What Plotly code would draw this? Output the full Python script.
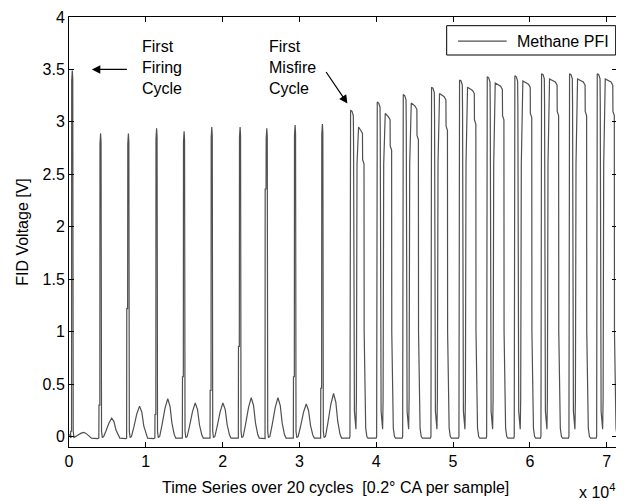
import plotly.graph_objects as go

# ---- data ----
# firing cycles: sample index of each narrow spike peak
firing_starts = [430, 4114, 7734, 11405, 14986, 18592, 22277, 25753, 29438, 32992]
spike_peaks = [3.49, 2.89, 2.89, 2.94, 2.91, 2.95, 2.95, 2.94, 2.97, 2.98]
spike_shoulders = [0.05, 0.30, 1.22, 0.21, 0.57, 0.44, 0.86, 2.36, 0.57, 0.46]
bump_peaks = [0.04, 0.175, 0.29, 0.36, 0.32, 0.32, 0.37, 0.37, 0.31, 0.41]

# misfire cycles: sample index where the first hump rises
misfire_starts = [36600, 40075, 43461, 47145, 50791, 54397, 57991, 61468, 65113, 68720]
misfire_peak1 = [3.11, 3.19, 3.26, 3.33, 3.40, 3.43, 3.44, 3.46, 3.46, 3.46]
misfire_peak2 = [2.95, 3.08, 3.18, 3.27, 3.33, 3.37, 3.39, 3.41, 3.41, 3.41]
misfire_end = [1830, 1950, 2050, 2150, 2200, 2250, 2280, 2300, 2300, 2300]

# waveform outline of one firing cycle (offset in samples, level as fraction)
spike_shape_dx = [-230, -210, -100, -80, 0, 60, 120, 220, 400]
bump_shape_dx = [700, 1100, 1450, 1750, 2000, 2300, 2500]
bump_shape_fr = [0.3, 0.75, 1.0, 0.8, 0.35, 0.05, 0.0]

start_x = [0, 150, 300]
start_y = [0.01, 0.02, 0.0]
end_x = 71350

x_ticks = [0, 10000, 20000, 30000, 40000, 50000, 60000, 70000]
x_tick_labels = ["0", "1", "2", "3", "4", "5", "6", "7"]
y_ticks = [0, 0.5, 1, 1.5, 2, 2.5, 3, 3.5, 4]
y_tick_labels = ["0", "0.5", "1", "1.5", "2", "2.5", "3", "3.5", "4"]

series_name = "Methane PFI"
line_color = "#505050"

# ---- assemble the trace vertices ----
xs, ys = list(start_x), list(start_y)
for P, h, s, b in zip(firing_starts, spike_peaks, spike_shoulders, bump_peaks):
    lv = [-0.015, s, s, h - 0.1, h, h - 0.08, 0.05, -0.01, 0.0]
    for dx, v in zip(spike_shape_dx, lv):
        xs.append(P + dx); ys.append(v)
    for dx, fr in zip(bump_shape_dx, bump_shape_fr):
        xs.append(P + dx); ys.append(b * fr - 0.015 * (fr == 0.0))
    xs.append(P + 3300); ys.append(-0.02)

for P, p1, p2, e in zip(misfire_starts, misfire_peak1, misfire_peak2, misfire_end):
    pts = [(-80, -0.015), (-20, 0.0), (0, 0.8), (30, 2.6), (60, p1),
           (250, p1 - 0.01), (420, p1 - 0.05), (450, p1 - 0.28), (480, 0.7),
           (560, 0.24), (760, 0.07), (820, 0.35), (900, 2.6), (1000, p2 - 0.05),
           (1100, p2), (e - 450, p2 - 0.03), (e - 220, p2 - 0.06), (e - 200, p2 - 0.31),
           (e - 20, p2 - 0.35), (e, 1.0), (e + 100, 0.3), (e + 200, 0.08),
           (e + 350, 0.0), (e + 500, -0.015)]
    for dx, v in pts:
        xs.append(P + dx); ys.append(v)
    nxt = P + 3500
    if nxt < end_x:
        xs.append(nxt - 150); ys.append(-0.015)

xs.append(end_x); ys.append(0.05)

fig = go.Figure()
fig.add_trace(go.Scatter(x=xs, y=ys, mode="lines", name=series_name,
                         showlegend=False,
                         line=dict(color=line_color, width=1.2)))

font = dict(family="Arial, Liberation Sans, sans-serif", size=16, color="black")

# the page body adds an 8 px margin, so the figure is 8 px smaller each way
fig.update_layout(
    width=616, height=493,
    margin=dict(l=61, r=7, t=9, b=54, autoexpand=False),
    paper_bgcolor="white", plot_bgcolor="white",
    font=font,
    showlegend=False,
)
fig.update_xaxes(range=[0, end_x], tickvals=x_ticks, ticktext=x_tick_labels,
                 ticks="inside", ticklen=5, tickcolor="black", mirror="ticks",
                 showline=True, linecolor="black", linewidth=1, automargin=False,
                 showgrid=False, zeroline=False, tickfont=font)
fig.update_yaxes(range=[-0.1, 4], tickvals=y_ticks, ticktext=y_tick_labels,
                 ticks="inside", ticklen=5, tickcolor="black", mirror="ticks",
                 showline=True, linecolor="black", linewidth=1, automargin=False,
                 showgrid=False, zeroline=False, tickfont=font,
                 title=dict(text="FID Voltage [V]", font=font, standoff=9))

# legend box (MATLAB style: long line sample, box close to the top-right corner)
fig.add_shape(type="rect", xref="paper", yref="paper",
              x0=0.6892, x1=0.9976, y0=0.9116, y1=0.9798,
              line=dict(color="black", width=1), fillcolor="white", layer="above")
fig.add_shape(type="line", xref="paper", yref="paper",
              x0=0.7099, x1=0.7987, y0=0.9440, y1=0.9440,
              line=dict(color=line_color, width=1.2), layer="above")
fig.add_annotation(text=series_name, xref="paper", yref="paper", x=0.8139, y=0.9440,
                   xanchor="left", yanchor="middle", showarrow=False, font=font)

fig.add_annotation(text="Time Series over 20 cycles  [0.2° CA per sample]",
                   xref="paper", yref="paper", x=0.486, y=-0.070,
                   xanchor="center", yanchor="top", showarrow=False, font=font)
fig.add_annotation(text="x 10<sup>4</sup>", xref="paper", yref="paper",
                   x=1.0, y=-0.075, xanchor="right", yanchor="top",
                   showarrow=False, font=font)
fig.add_annotation(text="First<br>Firing<br>Cycle", x=9257, y=3.52, xref="x", yref="y",
                   xanchor="left", yanchor="middle", align="left", showarrow=False, font=font)
fig.add_annotation(text="First<br>Misfire<br>Cycle", x=25754, y=3.52, xref="x", yref="y",
                   xanchor="left", yanchor="middle", align="left", showarrow=False, font=font)
fig.add_annotation(x=2982, y=3.50, ax=7734, ay=3.50, axref="x", ayref="y",
                   xref="x", yref="y", text="", showarrow=True,
                   arrowhead=2, arrowsize=1.4, arrowwidth=1.2, arrowcolor="black")
fig.add_annotation(x=36248, y=3.175, ax=33344, ay=3.49, axref="x", ayref="y",
                   xref="x", yref="y", text="", showarrow=True,
                   arrowhead=2, arrowsize=1.4, arrowwidth=1.2, arrowcolor="black")

fig.write_html("out.html")
